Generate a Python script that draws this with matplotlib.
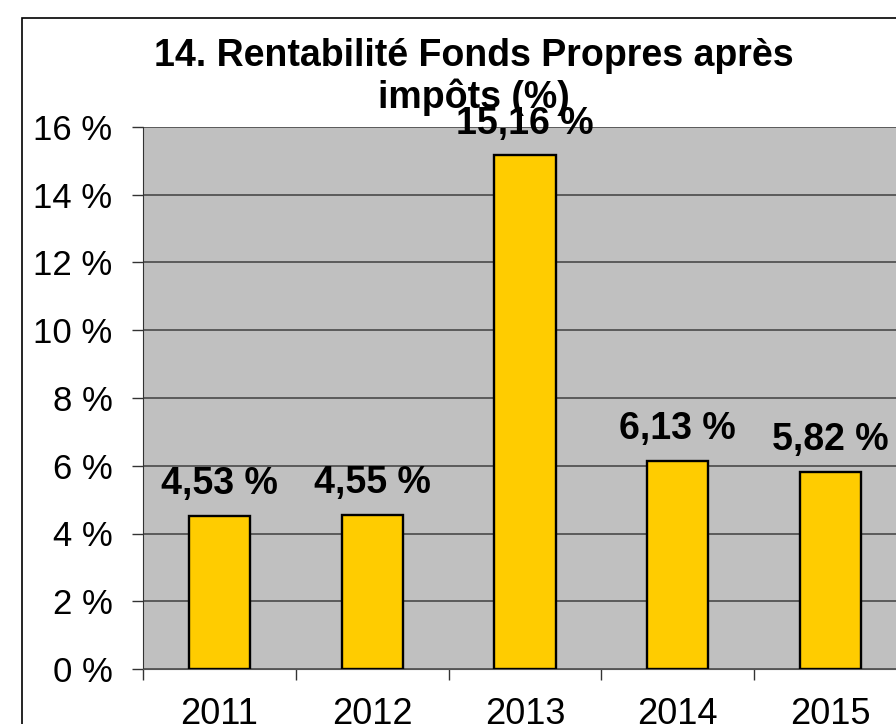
import matplotlib
matplotlib.use("Agg")
import matplotlib.pyplot as plt
from matplotlib.patches import Rectangle
from matplotlib.ticker import FixedLocator

plt.rcParams['font.family'] = ['Liberation Sans', 'DejaVu Sans']

years = ['2011', '2012', '2013', '2014', '2015']
values = [4.53, 4.55, 15.16, 6.13, 5.82]
title = '14. Rentabilité Fonds Propres après\nimpôts (%)'

W, H = 896, 724
fig = plt.figure(figsize=(W / 100, H / 100), dpi=100)

# chart frame (runs off the right and bottom edge like the source image)
frame = Rectangle((22 / W, -0.2), 1.2, (H - 18) / H + 0.2, transform=fig.transFigure,
                  facecolor='white', edgecolor='black', linewidth=1.2,
                  clip_on=False, zorder=-10)
fig.patches.append(frame)

# plot area in pixels: left 143, right ~907, top 127, bottom 669
ax = fig.add_axes([143 / W, (H - 669) / H, (907 - 143) / W, (669 - 127) / H])
ax.set_facecolor('#c0c0c0')

x = range(len(years))
ax.bar(x, values, width=0.4, color='#ffcc00', edgecolor='black',
       linewidth=1.7, zorder=3)

ax.set_xlim(-0.5, len(years) - 0.5)
ax.set_ylim(0, 16)
ax.set_yticks(range(0, 17, 2))
ax.set_yticklabels([f'{v} %' for v in range(0, 17, 2)], fontsize=25)
ax.grid(axis='y', color='#4a4a4a', linewidth=1.2, zorder=1)

ax.set_xticks(list(x))
ax.set_xticklabels(years, fontsize=26)
ax.xaxis.set_minor_locator(FixedLocator([i - 0.5 for i in range(len(years) + 1)]))
ax.tick_params(axis='x', which='major', length=0, pad=20)
ax.tick_params(axis='x', which='minor', length=8, width=1, color='#333333')
ax.tick_params(axis='y', length=8, width=1, color='#333333', pad=14)

for side in ['top', 'right']:
    ax.spines[side].set_visible(False)
ax.spines['left'].set_color('#333333')
ax.spines['bottom'].set_color('#555555')

for xi, v in zip(x, values):
    ax.annotate(f'{v:.2f} %'.replace('.', ','), (xi, v), xytext=(0, 10),
                textcoords='offset points', ha='center', va='bottom',
                fontsize=27, fontweight='bold', zorder=5)

fig.text(474 / W, (H - 38) / H, title, ha='center', va='top', fontsize=27,
         fontweight='bold', linespacing=1.15)

fig.savefig('out.png', dpi=100)
